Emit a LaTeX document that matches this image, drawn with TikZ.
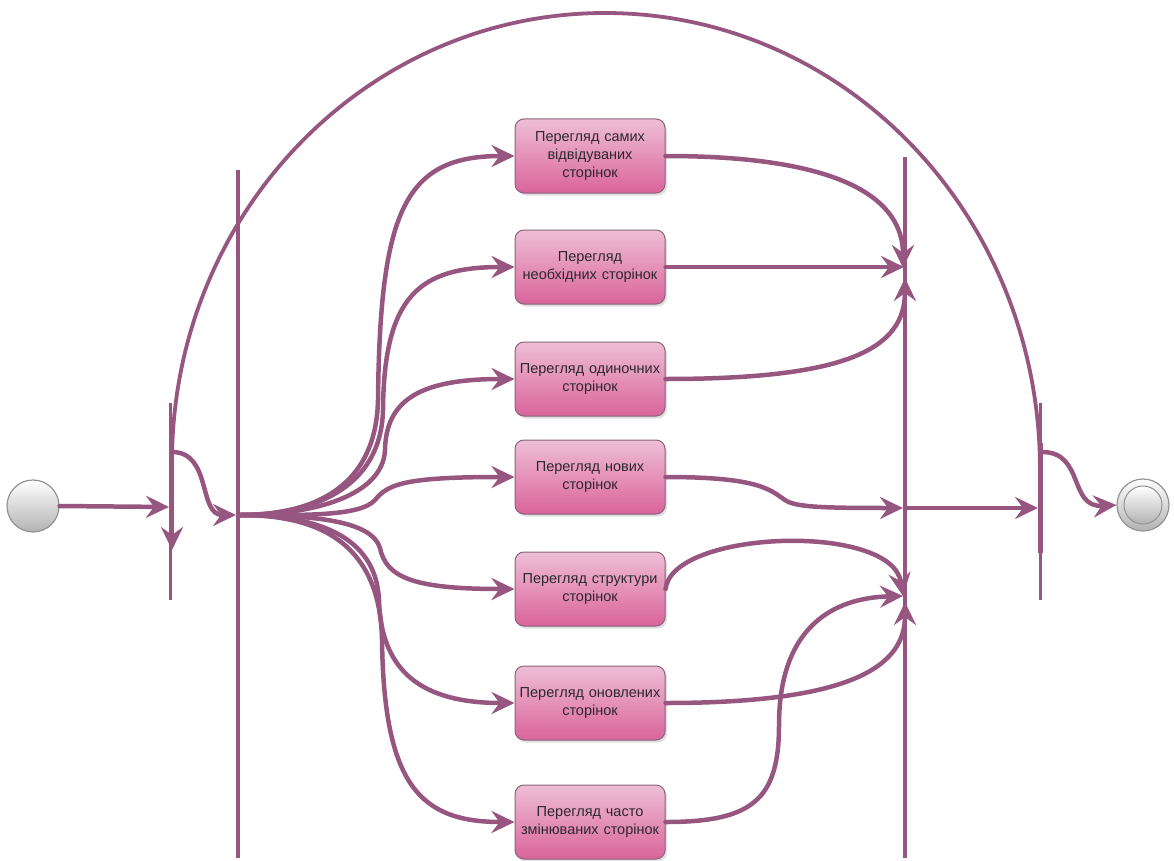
\documentclass[tikz,border=0pt]{standalone}
\usepackage{fontspec}
\setmainfont{Liberation Sans}
\usetikzlibrary{arrows.meta,shadows}
\definecolor{flow}{RGB}{150,86,128}
\definecolor{boxtop}{RGB}{238,190,213}
\definecolor{boxbot}{RGB}{218,100,155}
\definecolor{boxline}{RGB}{135,100,122}
\definecolor{label}{RGB}{45,40,45}
\begin{document}
\begin{tikzpicture}[x=1pt,y=-1pt,
  act/.style={rectangle, rounded corners=9pt, draw=boxline, line width=1pt,
    top color=boxtop, bottom color=boxbot, minimum width=150pt, minimum height=74pt,
    text width=150pt, inner sep=0pt, align=center, text=label,
    font=\fontsize{14.5}{18}\selectfont,
    drop shadow={shadow xshift=2pt, shadow yshift=-2.5pt, opacity=0.25}},
  bar/.style={fill=flow, draw=none, inner sep=0pt, minimum width=4pt},
  flowline/.style={draw=flow, line width=4.5pt, line cap=round,
    -{Stealth[length=23pt,width=22pt,inset=8pt]}},
  endpoint/.style={circle, draw=gray!85, line width=1.2pt, inner sep=0pt,
    top color=white, bottom color=gray!60}
]
\useasboundingbox (0,0) rectangle (1174,861);

% initial and final states
\node[endpoint, minimum size=52pt] (start) at (33,506) {};
\node[endpoint, minimum size=52pt] (final) at (1143,505) {};
\node[endpoint, minimum size=38pt, line width=1pt] (finalcore) at (final) {};

% fork / join bars
\node[bar, minimum height=197pt, minimum width=3pt] (f1) at (170,501.5) {};
\node[bar, minimum height=688pt] (f2) at (238,514) {};
\node[bar, minimum height=701pt] (j3) at (905,507.5) {};
\node[bar, minimum height=197pt, minimum width=3pt] (j4) at (1040,501.5) {};
\node[bar, minimum height=110pt, minimum width=5pt] (j4core) at (1040,498) {};

% activities
\node[act] (a1) at (590,156) {Перегляд самих\\відвідуваних\\сторінок};
\node[act] (a2) at (590,267) {Перегляд\\необхідних сторінок};
\node[act] (a3) at (590,379) {Перегляд одиночних\\сторінок};
\node[act] (a4) at (590,477) {Перегляд нових\\сторінок};
\node[act] (a5) at (590,589) {Перегляд структури\\сторінок};
\node[act] (a6) at (590,703) {Перегляд оновлених\\сторінок};
\node[act] (a7) at (590,822) {Перегляд часто\\змінюваних сторінок};

% attachment points on the bars
\coordinate (f1in) at (169,507);
\coordinate (f1out) at (172,452);
\coordinate (f1down) at (172,550);
\coordinate (f2in) at (236,515);
\coordinate (fan) at (240,515);
\coordinate (j3top) at (904,267);
\coordinate (j3topdown) at (903,268);
\coordinate (j3topup) at (905,278);
\coordinate (j3mid) at (903,508);
\coordinate (j3low) at (903,596);
\coordinate (j3lowup) at (905,602);
\coordinate (j3out) at (907,508);
\coordinate (j4in) at (1038,508);
\coordinate (j4out) at (1042,452);
\coordinate (j4arc) at (1040,470);

% entry and loop
\draw[flowline] (start.east) -- (f1in);
\draw[flowline] (f1out) .. controls (212,452) and (198,515) .. (f2in);
\draw[flowline, line width=3.8pt] (j4arc) .. controls (1040,215) and (845,13) .. (605,13)
   .. controls (365,13) and (172,215) .. (172,462) -- (f1down);

% fan out to activities
\draw[flowline] (fan) .. controls (310,515) and (376,490) .. (378,400)
   .. controls (380,210) and (405,156) .. (a1.west);
\draw[flowline] (fan) .. controls (310,515) and (381,490) .. (383,410)
   .. controls (384,295) and (420,267) .. (a2.west);
\draw[flowline] (fan) .. controls (315,515) and (383,495) .. (385,450)
   .. controls (386,400) and (420,379) .. (a3.west);
\draw[flowline] (fan) .. controls (300,515) and (360,517) .. (375,500)
   .. controls (388,484) and (405,477) .. (a4.west);
\draw[flowline] (fan) .. controls (320,515) and (372,522) .. (380,548)
   .. controls (386,578) and (415,589) .. (a5.west);
\draw[flowline] (fan) .. controls (315,515) and (376,535) .. (379,600)
   .. controls (381,670) and (420,703) .. (a6.west);
\draw[flowline] (fan) .. controls (315,515) and (380,540) .. (382,640)
   .. controls (384,785) and (420,822) .. (a7.west);

% activities into the join
\draw[flowline] (a1.east) .. controls (845,156) and (903,200) .. (j3topdown);
\draw[flowline] (a2.east) -- (j3top);
\draw[flowline] (a3.east) .. controls (845,379) and (905,350) .. (j3topup);
\draw[flowline] (a4.east) .. controls (760,477) and (770,490) .. (785,500)
   .. controls (795,507) and (820,508) .. (j3mid);
\draw[flowline] (a5.east) .. controls (672,530) and (892,522) .. (j3low);
\draw[flowline] (a6.east) .. controls (855,703) and (905,665) .. (j3lowup);
\draw[flowline] (a7.east) .. controls (752,822) and (779,800) .. (779,725)
   .. controls (779,635) and (825,598) .. (j3low);

% join to final
\draw[flowline] (j3out) -- (j4in);
\draw[flowline] (j4out) .. controls (1085,452) and (1068,508) .. (final.west);
\end{tikzpicture}
\end{document}
